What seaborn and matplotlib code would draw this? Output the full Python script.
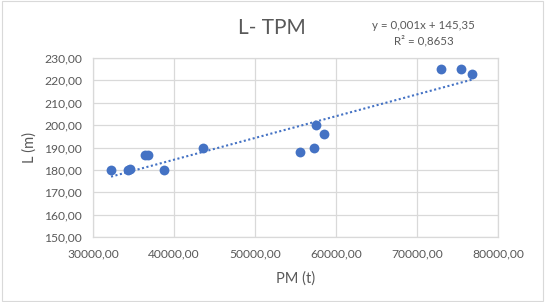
import numpy as np
import pandas as pd
import matplotlib
matplotlib.use("Agg")
import matplotlib.pyplot as plt
import seaborn as sns
from matplotlib.ticker import FuncFormatter, MultipleLocator

# Data
pm_t = [32200, 34350, 34600, 36400, 36800, 38800, 43500,
        55500, 57300, 57500, 58550, 72900, 75400, 76800]
l_m = [180, 180, 180.5, 186.5, 186.5, 180, 190,
       188, 190, 200, 196, 225, 225, 223]
eq_text = "y = 0,001x + 145,35"
r2_text = "R² = 0,8653"

df = pd.DataFrame({"PM (t)": pm_t, "L (m)": l_m})

sns.set_style("white")
plt.rcParams["font.family"] = ["Lato", "DejaVu Sans"]

gray = "#595959"
blue = "#4472C4"

fig = plt.figure(figsize=(5.45, 3.02), dpi=100)
ax = fig.add_axes([0.171, 0.215, 0.743, 0.593])

sns.scatterplot(data=df, x="PM (t)", y="L (m)", ax=ax, color=blue,
                s=50, edgecolor=blue, linewidth=0, zorder=3)

# linear trendline
slope, intercept = np.polyfit(df["PM (t)"], df["L (m)"], 1)
xs = np.array([min(pm_t), max(pm_t)])
ax.plot(xs, slope * xs + intercept, linestyle=(0, (1, 1.2)), color=blue,
        linewidth=1.5, zorder=2)

ax.set_xlim(30000, 80000)
ax.set_ylim(150, 230)
ax.xaxis.set_major_locator(MultipleLocator(10000))
ax.yaxis.set_major_locator(MultipleLocator(10))
fmt = FuncFormatter(lambda v, p: f"{v:.2f}".replace(".", ","))
ax.xaxis.set_major_formatter(fmt)
ax.yaxis.set_major_formatter(fmt)
ax.grid(True, color="#D9D9D9", linewidth=0.9)
ax.set_axisbelow(True)
for s in ax.spines.values():
    s.set_color("#D9D9D9")
    s.set_linewidth(0.9)
ax.tick_params(axis="both", length=0, labelsize=8.7, colors=gray)
ax.tick_params(axis="x", pad=8)
ax.tick_params(axis="y", pad=8)

ax.set_xlabel("PM (t)", fontsize=10.5, color=gray, labelpad=9)
ax.set_ylabel("L (m)", fontsize=10.5, color=gray, labelpad=5)

fig.text(0.498, 0.907, "L- TPM", fontsize=15, color=gray,
         ha="center", va="center")
fig.text(0.777, 0.917, eq_text, fontsize=8.3, color=gray,
         ha="center", va="center")
fig.text(0.777, 0.864, r2_text, fontsize=8.3, color=gray,
         ha="center", va="center")

# chart border
fig.patches.append(plt.Rectangle((0.004, 0.004), 0.992, 0.992,
                                 transform=fig.transFigure, fill=False,
                                 edgecolor="#D9D9D9", linewidth=0.8))

fig.savefig("out.png", dpi=100)
